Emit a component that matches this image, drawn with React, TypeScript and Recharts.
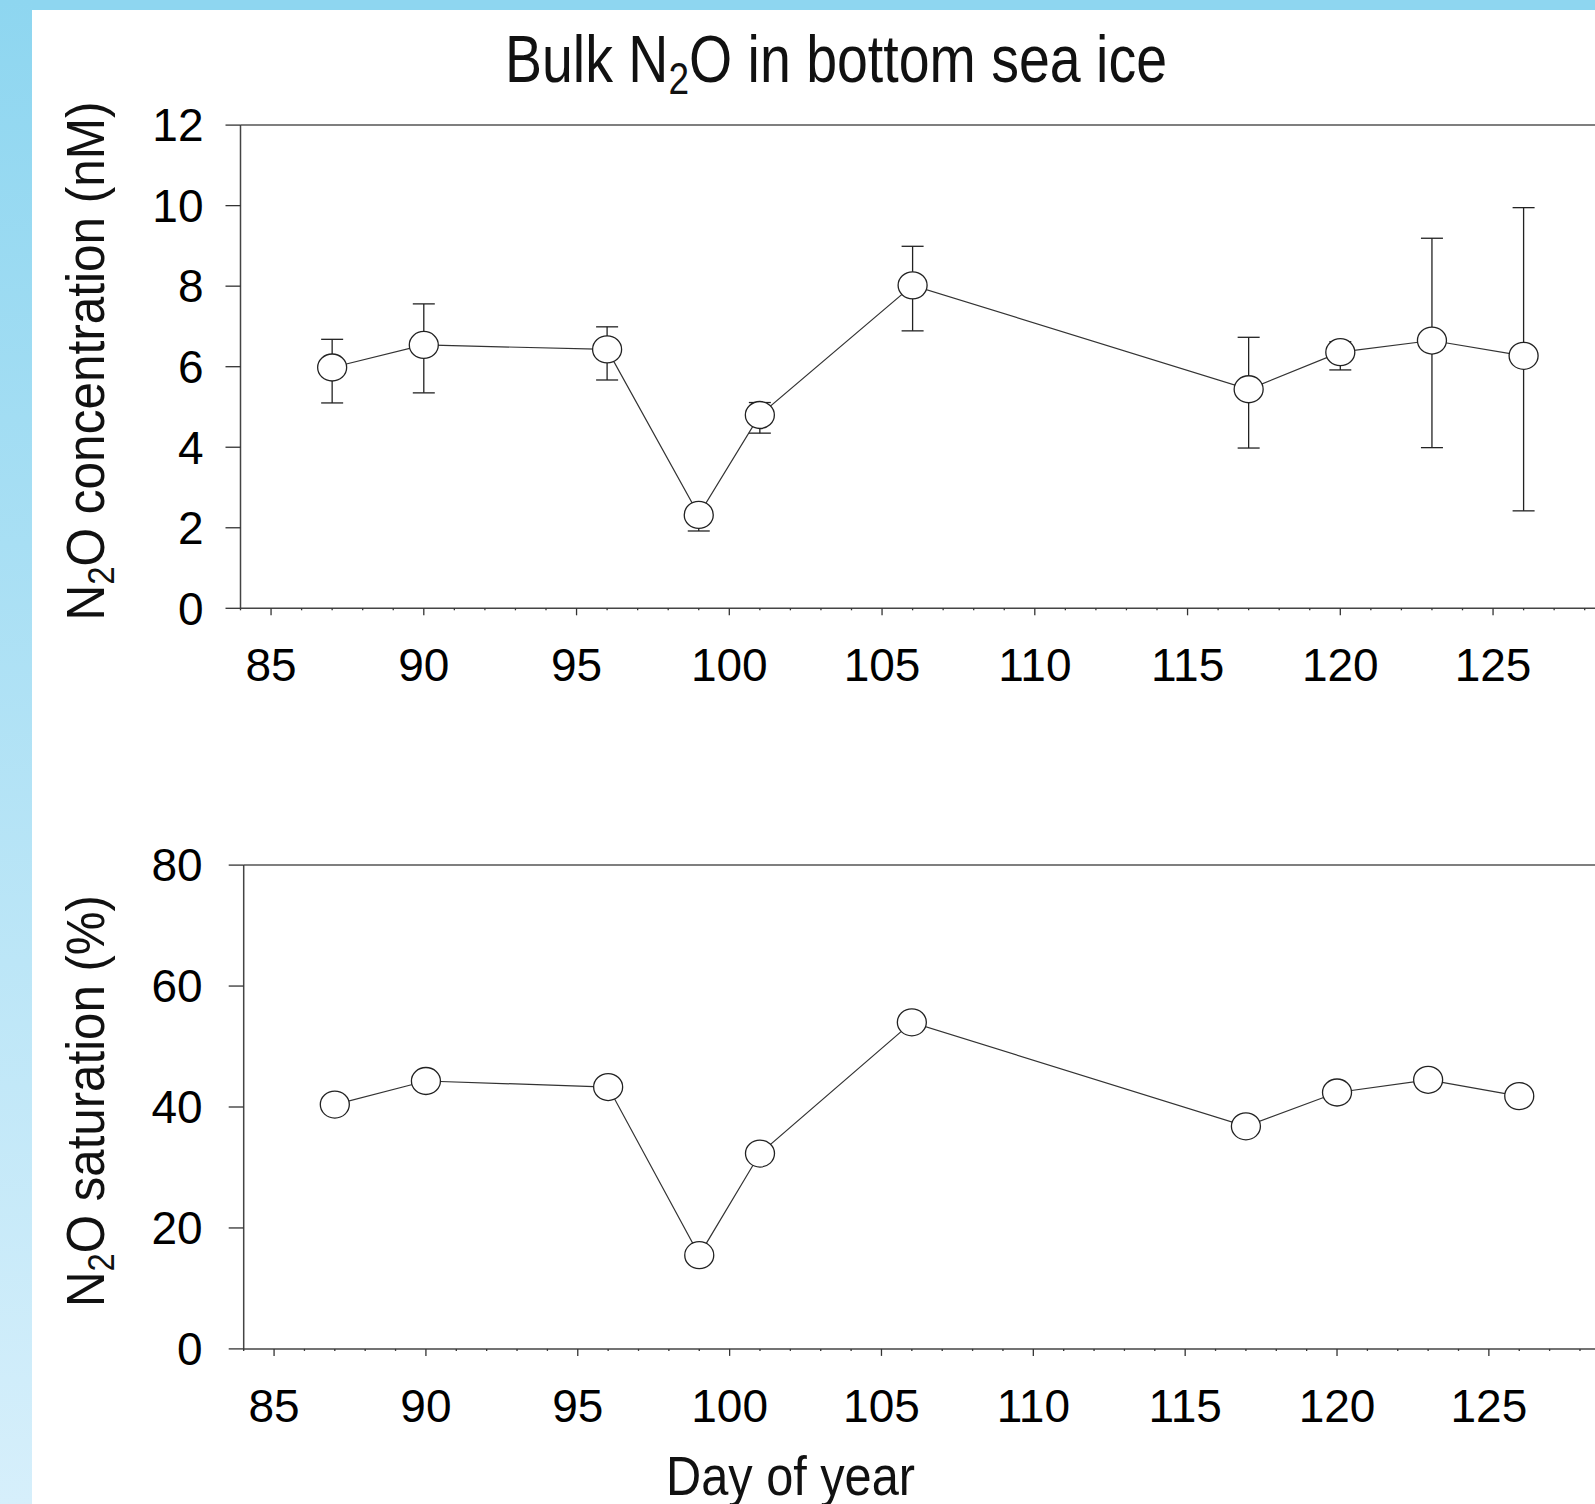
import React from 'react'
import { LineChart, Line, XAxis, YAxis, ErrorBar, ReferenceLine } from 'recharts'

// sampling days (day of year)
const days = [87, 90, 96, 99, 101, 106, 117, 120, 123, 126]
// bulk N2O concentration (nM) with error bar ends
const conc = [5.98, 6.54, 6.43, 2.32, 4.8, 8.02, 5.44, 6.36, 6.65, 6.27]
const concLow = [5.1, 5.35, 5.67, 1.92, 4.35, 6.89, 3.98, 5.92, 3.99, 2.42]
const concHigh = [6.68, 7.56, 6.99, 2.5, 5.11, 8.99, 6.73, 6.62, 9.19, 9.95]
// N2O saturation (%)
const sat = [40.4, 44.3, 43.3, 15.5, 32.3, 54.0, 36.8, 42.4, 44.5, 41.8]

const majorTicks = [85, 90, 95, 100, 105, 110, 115, 120, 125]
const dayTicks = Array.from({ length: 46 }, (_, i) => 84 + i)
const concTicks = [0, 2, 4, 6, 8, 10, 12]
const satTicks = [0, 20, 40, 60, 80]

const concRows = days.map((d, i) => ({ day: d, conc: conc[i], err: [conc[i] - concLow[i], concHigh[i] - conc[i]] }))
const satRows = days.map((d, i) => ({ day: d, sat: sat[i] }))

const FONT = "'Liberation Sans', Arial, Helvetica, sans-serif"
const NARROW = "'Liberation Sans Narrow', 'Arial Narrow', 'Liberation Sans', Arial, sans-serif"

const XTick = (props: any) => {
  const { x, y, payload } = props
  const major = majorTicks.includes(payload.value)
  return (
    <g>
      <line x1={x} x2={x} y1={y} y2={y + (major ? 7 : 2)} stroke="#333" strokeWidth={1.3} />
      {major && (
        <text x={x} y={y + 40} dy="0.71em" textAnchor="middle" fontSize={46} fontFamily={FONT} fill="#000">
          {payload.value}
        </text>
      )}
    </g>
  )
}

const Marker = (props: any) => {
  const { cx, cy, index } = props
  if (cx == null || cy == null) return <g key={`m${index}`} />
  return <ellipse key={`m${index}`} cx={cx} cy={cy} rx={14.5} ry={13.5} fill="#fff" stroke="#222" strokeWidth={1.3} />
}

const yTickStyle = { fontSize: 46, fontFamily: FONT, fill: '#000' }

export default function App() {
  return (
    <div style={{ position: 'fixed', left: 0, top: 0, width: 1595, height: 1504, overflow: 'hidden', background: '#fff' }}>
      <div style={{ position: 'absolute', left: 0, top: 0, width: 1595, height: 10, background: '#8ed6f0' }} />
      <div style={{ position: 'absolute', left: 0, top: 0, width: 32, height: 1504, background: 'linear-gradient(#8ed6f0, #d6effb)' }} />

      <div style={{ position: 'absolute', left: 0, top: 0 }}>
        <LineChart width={1616} height={720} data={concRows} margin={{ top: 125.1, right: 0.75, bottom: 0, left: 0 }}>
          <XAxis
            dataKey="day"
            type="number"
            domain={[84, 129]}
            ticks={dayTicks}
            interval={0}
            tick={<XTick />}
            tickLine={false}
            tickSize={0}
            tickMargin={0}
            height={111.7}
            axisLine={{ stroke: '#444', strokeWidth: 1.5 }}
          />
          <YAxis
            type="number"
            domain={[0, 12]}
            ticks={concTicks}
            width={240.5}
            tickSize={15}
            tickMargin={22}
            tick={yTickStyle}
            tickLine={{ stroke: '#333', strokeWidth: 1.3 }}
            axisLine={{ stroke: '#444', strokeWidth: 1.5 }}
          />
          <ReferenceLine y={12} stroke="#555" strokeWidth={1.5} />
          <Line dataKey="conc" stroke="#333" strokeWidth={1.2} dot={Marker} activeDot={false} isAnimationActive={false}>
            <ErrorBar dataKey="err" direction="y" width={11} stroke="#222" strokeWidth={1.3} isAnimationActive={false} />
          </Line>
        </LineChart>
      </div>

      <div style={{ position: 'absolute', left: 0, top: 760 }}>
        <LineChart width={1616} height={700} data={satRows} margin={{ top: 105.1, right: 5.65, bottom: 0, left: 0 }}>
          <XAxis
            dataKey="day"
            type="number"
            domain={[84, 129]}
            ticks={dayTicks}
            interval={0}
            tick={<XTick />}
            tickLine={false}
            tickSize={0}
            tickMargin={0}
            height={111.1}
            axisLine={{ stroke: '#444', strokeWidth: 1.5 }}
          />
          <YAxis
            type="number"
            domain={[0, 80]}
            ticks={satTicks}
            width={243.7}
            tickSize={15}
            tickMargin={26}
            tick={yTickStyle}
            tickLine={{ stroke: '#333', strokeWidth: 1.3 }}
            axisLine={{ stroke: '#444', strokeWidth: 1.5 }}
          />
          <ReferenceLine y={80} stroke="#555" strokeWidth={1.5} />
          <Line dataKey="sat" stroke="#333" strokeWidth={1.2} dot={Marker} activeDot={false} isAnimationActive={false} />
        </LineChart>
      </div>

      <svg width={1595} height={1504} style={{ position: 'absolute', left: 0, top: 0, pointerEvents: 'none' }}>
        <text x={505} y={81.5} fontSize={66} fontFamily={NARROW} fill="#111" textLength={662} lengthAdjust="spacingAndGlyphs">
          Bulk N<tspan fontSize={44} dy={12}>2</tspan><tspan dy={-12}>O in bottom sea ice</tspan>
        </text>
        <text
          transform="translate(104,620.5) rotate(-90)"
          x={0}
          y={0}
          fontSize={54}
          fontFamily={NARROW}
          fill="#111"
          textLength={519}
          lengthAdjust="spacingAndGlyphs"
        >
          N<tspan fontSize={36} dy={10}>2</tspan><tspan dy={-10}>O concentration (nM)</tspan>
        </text>
        <text
          transform="translate(104,1307) rotate(-90)"
          x={0}
          y={0}
          fontSize={54}
          fontFamily={NARROW}
          fill="#111"
          textLength={412}
          lengthAdjust="spacingAndGlyphs"
        >
          N<tspan fontSize={36} dy={10}>2</tspan><tspan dy={-10}>O saturation (%)</tspan>
        </text>
        <text x={666} y={1495} fontSize={55} fontFamily={NARROW} fill="#111" textLength={249} lengthAdjust="spacingAndGlyphs">
          Day of year
        </text>
      </svg>
    </div>
  )
}
